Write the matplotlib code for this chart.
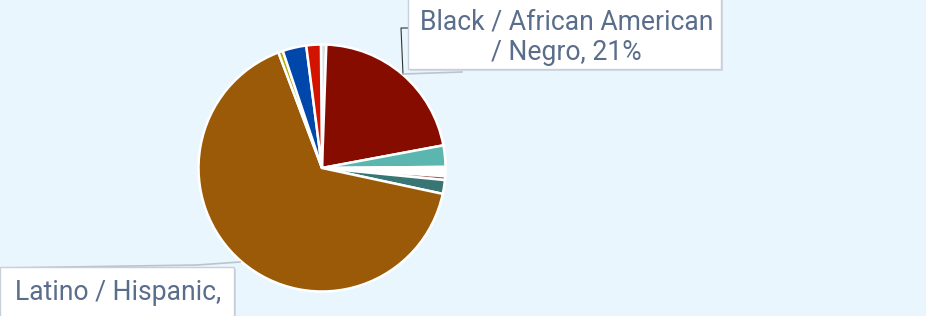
import matplotlib
matplotlib.use('Agg')
import matplotlib.pyplot as plt
from matplotlib.patches import Rectangle

# slice values (percent), clockwise from the top
groups = ['Other', 'Black / African American / Negro', 'Asian', 'Unknown', 'Pacific Islander',
          'Two or more', 'Latino / Hispanic', 'Native American', 'White', 'Middle Eastern']
shares = [0.7, 21.5, 2.8, 1.2, 0.5, 1.8, 65.9, 0.6, 3.1, 1.9]
colors = ['#d6dde6', '#870c00', '#5bb6b0', '#ffffff', '#9a5a5a',
          '#377672', '#9a5a08', '#b8a800', '#0047ab', '#d11300']

label_black = ['Black / African American', '/ Negro, 21%']
label_latino = 'Latino / Hispanic,'

W, H = 926, 316
bg = '#eaf6fd'
txt_color = '#5a6d8a'

fig = plt.figure(figsize=(W/100, H/100), dpi=100)
fig.patch.set_facecolor(bg)
ax = fig.add_axes([0, 0, 1, 1])
ax.set_facecolor(bg)

# pixel coords with y pointing up
cx, cy, r = 322, H - 168, 123.5
ax.pie(shares, colors=colors, startangle=90.5, counterclock=False,
       center=(cx, cy), radius=r, frame=True,
       wedgeprops=dict(edgecolor='white', linewidth=1.8))

ax.set_xlim(0, W)
ax.set_ylim(0, H)
ax.set_aspect('auto')
ax.axis('off')

def py(y):
    return H - y

# connectors
ax.plot([403, 401, 410], [py(74), py(28), py(28)], color='#333333', lw=0.8, zorder=3)
ax.plot([403, 462], [py(74), py(72)], color='#b9c4d0', lw=1.2, zorder=3)
ax.plot([0, 197, 240], [py(268), py(265), py(262)], color='#b9c4d0', lw=1.2, zorder=3)

# label boxes (with light shadow)
def box(x0, y0, x1, y1):
    ax.add_patch(Rectangle((x0 + 2, py(y1 + 2)), x1 - x0, y1 - y0,
                           facecolor='#d3dae3', edgecolor='none', zorder=4))
    ax.add_patch(Rectangle((x0, py(y1)), x1 - x0, y1 - y0,
                           facecolor='white', edgecolor='#c6cfda', lw=1, zorder=5))

box(408, -10, 721, 69)
box(0, 267, 234, 330)

for i, line in enumerate(label_black):
    ax.text(566.5, py(29.5 + 30.7 * i), line, ha='center', va='baseline',
            fontsize=19.1, family='Roboto', color=txt_color, zorder=6)
ax.text(15, py(300), label_latino, ha='left', va='baseline',
        fontsize=19.1, family='Roboto', color=txt_color, zorder=6)

fig.savefig('out.png', dpi=100, facecolor=bg)
